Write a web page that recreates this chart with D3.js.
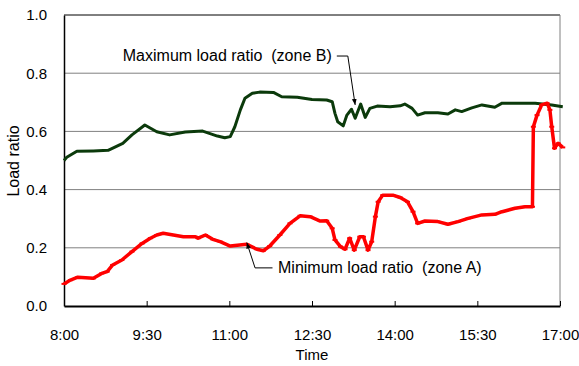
<!DOCTYPE html>
<html>
<head>
<meta charset="utf-8">
<script src="https://cdn.jsdelivr.net/npm/d3@7"></script>
<style>
  body { margin: 0; background: #fff; }
  text { font-family: Arial, "Liberation Sans", sans-serif; fill: #000; white-space: pre; }
</style>
</head>
<body>
<svg id="chart" width="579" height="366"></svg>
<script>
// time is minutes of the day (480 = 8:00)
const maxTimes = [480, 483, 494, 512, 528, 544, 554, 568, 581, 595, 612, 631, 647, 655, 661, 666, 672, 677, 685, 693,
  708, 717, 734, 750, 766, 772, 775, 778, 784, 788, 793, 797, 803, 808, 813, 821, 835, 846, 851, 859,
  865, 873, 887, 898, 906, 913, 924, 935, 949, 957, 979, 993, 1011, 1023]
const maxValues = [0.500, 0.511, 0.532, 0.533, 0.535, 0.559, 0.588, 0.622, 0.599, 0.588, 0.598, 0.601, 0.584, 0.578, 0.582, 0.616, 0.674, 0.714, 0.731, 0.735,
  0.734, 0.719, 0.717, 0.710, 0.708, 0.702, 0.662, 0.633, 0.619, 0.656, 0.676, 0.645, 0.694, 0.648, 0.679, 0.687, 0.685, 0.688, 0.694, 0.679,
  0.656, 0.664, 0.664, 0.660, 0.674, 0.668, 0.681, 0.691, 0.683, 0.697, 0.697, 0.697, 0.691, 0.685]

const minTimes = [480, 487, 495, 512, 521, 527, 533, 543, 554, 565, 574, 581, 588, 599, 610, 623, 626, 634, 642, 650,
  661, 679, 690, 697, 704, 715, 726, 737, 748, 759, 766, 772, 775, 781, 786, 791, 796, 802, 806, 811,
  815, 819, 822, 827, 838, 846, 854, 860, 865, 873, 887, 898, 909, 920, 935, 949, 957, 971, 982, 990,
  991, 995, 1000, 1006, 1009, 1011, 1014, 1018, 1023]
const minValues = [0.076, 0.089, 0.099, 0.095, 0.112, 0.118, 0.141, 0.158, 0.187, 0.215, 0.233, 0.244, 0.250, 0.244, 0.238, 0.238, 0.233, 0.244, 0.229, 0.221,
  0.206, 0.212, 0.195, 0.190, 0.206, 0.244, 0.284, 0.310, 0.307, 0.292, 0.293, 0.267, 0.227, 0.204, 0.195, 0.233, 0.192, 0.238, 0.238, 0.192,
  0.221, 0.307, 0.358, 0.381, 0.381, 0.373, 0.358, 0.324, 0.284, 0.292, 0.290, 0.281, 0.290, 0.301, 0.313, 0.315, 0.324, 0.336, 0.341, 0.341,
  0.616, 0.656, 0.691, 0.697, 0.674, 0.616, 0.542, 0.559, 0.545]

const timeTicks = [480, 570, 660, 750, 840, 930, 1020]
const ratioTicks = [0, 0.2, 0.4, 0.6, 0.8, 1.0]

const svg = d3.select('#chart')
const margin = {left: 64, right: 19, top: 15, bottom: 60}
const width = 579 - margin.left - margin.right
const height = 366 - margin.top - margin.bottom

const x = d3.scaleLinear().domain([480, 1020]).range([0, width])
const y = d3.scaleLinear().domain([0, 1]).range([height, 0])

const g = svg.append('g').attr('transform', 'translate(' + margin.left + ',' + margin.top + ')')

// grid
g.selectAll('line.grid')
  .data(ratioTicks.filter(d => d > 0 && d < 1))
  .join('line').classed('grid', true)
  .attr('x1', 0).attr('x2', width)
  .attr('y1', d => y(d)).attr('y2', d => y(d))
  .attr('stroke', '#808080').attr('stroke-width', 1)

g.append('line').attr('x1', 0).attr('x2', width).attr('y1', y(1)).attr('y2', y(1))
  .attr('stroke', '#000').attr('stroke-width', 1)
g.append('line').attr('x1', width).attr('x2', width).attr('y1', y(1)).attr('y2', height)
  .attr('stroke', '#808080').attr('stroke-width', 1)

const fmt = m => Math.floor(m / 60) + ':' + d3.format('02')(m % 60)

const xAxis = g.append('g')
  .attr('transform', 'translate(0,' + height + ')')
  .call(d3.axisBottom(x).tickValues(timeTicks).tickFormat(fmt).tickSizeInner(-5).tickSizeOuter(0).tickPadding(23))
xAxis.select('.domain').attr('stroke', '#000').attr('stroke-width', 2)
xAxis.selectAll('.tick line').attr('stroke', '#000')
xAxis.selectAll('text').style('font-size', '15px').style('font-family', 'Arial, "Liberation Sans", sans-serif')

const yAxis = g.append('g')
  .call(d3.axisLeft(y).tickValues(ratioTicks).tickFormat(d3.format('.1f')).tickSize(0).tickPadding(17))
yAxis.select('.domain').attr('stroke', '#000').attr('stroke-width', 1.5)
yAxis.selectAll('text').style('font-size', '15px').style('font-family', 'Arial, "Liberation Sans", sans-serif')

svg.append('text').text('Time')
  .attr('x', margin.left + width / 2).attr('y', 360)
  .style('text-anchor', 'middle').style('font-size', '15px')

svg.append('text').text('Load ratio')
  .attr('transform', 'translate(' + 19 + ',' + 161 + ') rotate(-90)')
  .style('text-anchor', 'middle').style('font-size', '16px')

// series
const line = d3.line().x(d => x(d[0])).y(d => y(d[1]))
const maxData = maxTimes.map((t, i) => [t, maxValues[i]])
const minData = minTimes.map((t, i) => [t, minValues[i]])

g.append('path').datum(maxData)
  .attr('d', line).attr('fill', 'none')
  .attr('stroke', '#0b3a0b').attr('stroke-width', 3).attr('stroke-linejoin', 'round')

g.append('path').datum(minData)
  .attr('d', line).attr('fill', 'none')
  .attr('stroke', '#ff0000').attr('stroke-width', 3.5).attr('stroke-linejoin', 'round')

// dash markers on the red series
g.selectAll('rect.mk')
  .data(minData)
  .join('rect').classed('mk', true)
  .attr('x', d => x(d[0]) - 2.5).attr('y', d => y(d[1]) - 1)
  .attr('width', 5).attr('height', 2)
  .attr('fill', '#ff0000')

// annotations
svg.append('defs').append('marker')
  .attr('id', 'arrow').attr('viewBox', '0 0 10 10').attr('refX', 10).attr('refY', 5)
  .attr('markerWidth', 6).attr('markerHeight', 6).attr('orient', 'auto')
  .append('path').attr('d', 'M0,1 L10,5 L0,9 Z').attr('fill', '#000')

g.append('text').text('Maximum load ratio  (zone B)')
  .attr('x', x(544)).attr('y', y(0.842)).style('font-size', '16px')
g.append('path')
  .attr('d', d3.line()([[x(777), y(0.859)], [x(789), y(0.859)], [x(797), y(0.691)]]))
  .attr('fill', 'none').attr('stroke', '#000').attr('stroke-width', 1)
  .attr('marker-end', 'url(#arrow)')

g.append('text').text('Minimum load ratio  (zone A)')
  .attr('x', x(713)).attr('y', y(0.113)).style('font-size', '16px')
g.append('path')
  .attr('d', d3.line()([[x(707), y(0.131)], [x(688), y(0.131)], [x(679), y(0.218)]]))
  .attr('fill', 'none').attr('stroke', '#000').attr('stroke-width', 1)
  .attr('marker-end', 'url(#arrow)')
</script>
</body>
</html>
